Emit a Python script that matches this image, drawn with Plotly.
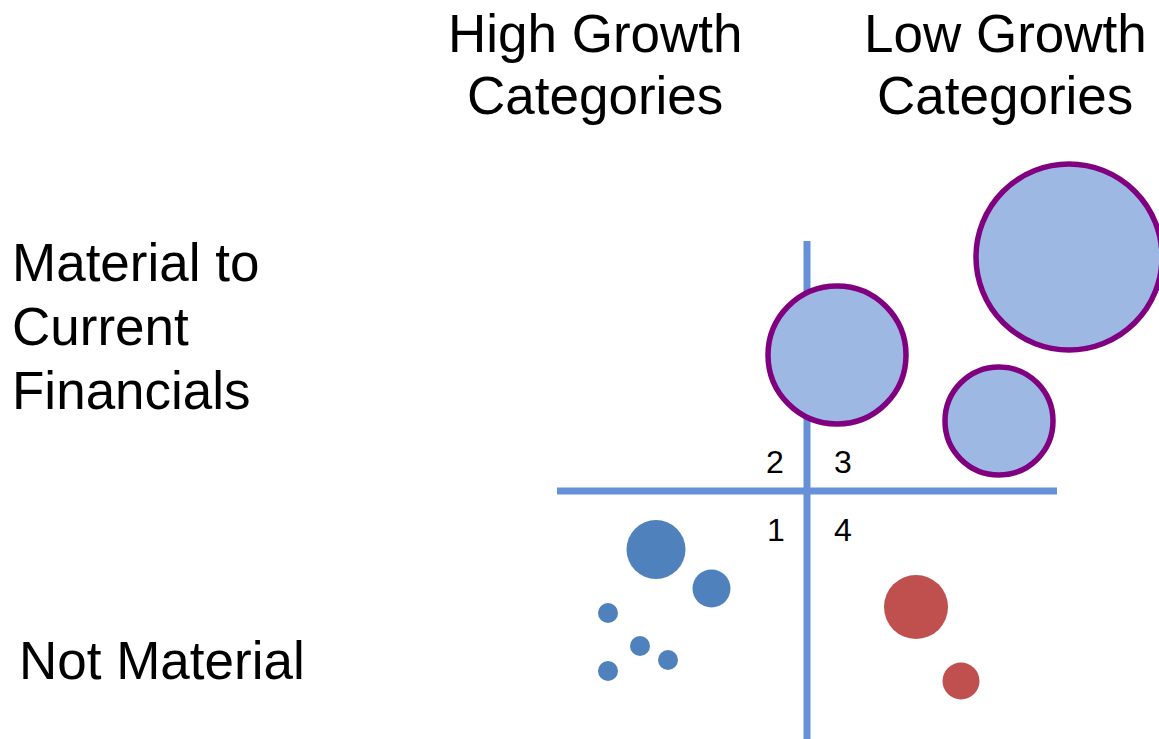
import plotly.graph_objects as go

# ---- data (abstract units: x = growth axis, y = materiality axis; quadrant cross at 0,0) ----
material_x = [2.62, 0.30, 1.92]
material_y = [2.34, 1.36, 0.70]
material_size = [186, 138, 108]

high_growth_x = [-1.51, -0.955, -1.99, -1.67, -1.39, -1.99]
high_growth_y = [-0.585, -0.975, -1.22, -1.55, -1.69, -1.80]
high_growth_size = [59, 38, 20, 20, 20, 20]

low_growth_x = [1.09, 1.54]
low_growth_y = [-1.16, -1.90]
low_growth_size = [64, 37]

axis_extent = 2.5

column_labels = [("High Growth", "Categories"), ("Low Growth", "Categories")]
column_x = [-2.12, 1.98]
row_labels = [["Material to", "Current", "Financials"], ["Not Material"]]
quadrant_labels = ["1", "2", "3", "4"]

# ---- figure ----
W, H = 1159, 739
fig = go.Figure()
line_color = "#6690D8"
fig.add_trace(go.Scatter(x=[-axis_extent, axis_extent], y=[0, 0], mode="lines",
                         line=dict(color=line_color, width=7), hoverinfo="skip"))
fig.add_trace(go.Scatter(x=[0, 0], y=[-axis_extent, axis_extent], mode="lines",
                         line=dict(color=line_color, width=7), hoverinfo="skip"))

fig.add_trace(go.Scatter(x=high_growth_x, y=high_growth_y, mode="markers",
                         marker=dict(size=high_growth_size, sizemode="diameter", color="#4F81BD",
                                     line=dict(width=0), opacity=1)))
fig.add_trace(go.Scatter(x=low_growth_x, y=low_growth_y, mode="markers",
                         marker=dict(size=low_growth_size, sizemode="diameter", color="#C0504D",
                                     line=dict(width=0), opacity=1)))
fig.add_trace(go.Scatter(x=material_x, y=material_y, mode="markers",
                         marker=dict(size=material_size, sizemode="diameter", color="#9DB8E3",
                                     line=dict(width=5.5, color="#800080"), opacity=1)))

font_family = "Arial, Liberation Sans, sans-serif"
big = 53
ann = []
for (l1, l2), cx in zip(column_labels, column_x):
    ann.append(dict(x=cx, y=4.58, text=l1, xanchor="center", yanchor="middle",
                    font=dict(size=big)))
    ann.append(dict(x=cx, y=3.96, text=l2, xanchor="center", yanchor="middle",
                    font=dict(size=big)))
for i, t in enumerate(row_labels[0]):
    ann.append(dict(x=-7.97, y=2.29 - 0.64 * i, text=t, xanchor="left", yanchor="middle",
                    font=dict(size=big)))
ann.append(dict(x=-7.90, y=-1.69, text=row_labels[1][0], xanchor="left", yanchor="middle",
                font=dict(size=big)))
qpos = {"1": (-0.31, -0.39), "2": (-0.32, 0.29), "3": (0.36, 0.29), "4": (0.36, -0.39)}
for q in quadrant_labels:
    qx, qy = qpos[q]
    ann.append(dict(x=qx, y=qy, text=q, xanchor="center", yanchor="middle",
                    font=dict(size=32)))
for a in ann:
    a.update(showarrow=False, xref="x", yref="y")
    a["font"].update(family=font_family, color="black")

fig.update_layout(
    width=W, height=H, margin=dict(l=0, r=0, t=0, b=0),
    paper_bgcolor="white", plot_bgcolor="white", showlegend=False,
    annotations=ann,
    xaxis=dict(range=[-8.07, 3.52], visible=False, fixedrange=True),
    yaxis=dict(range=[-2.48, 4.91], visible=False, fixedrange=True),
)
fig.write_html("out.html")
